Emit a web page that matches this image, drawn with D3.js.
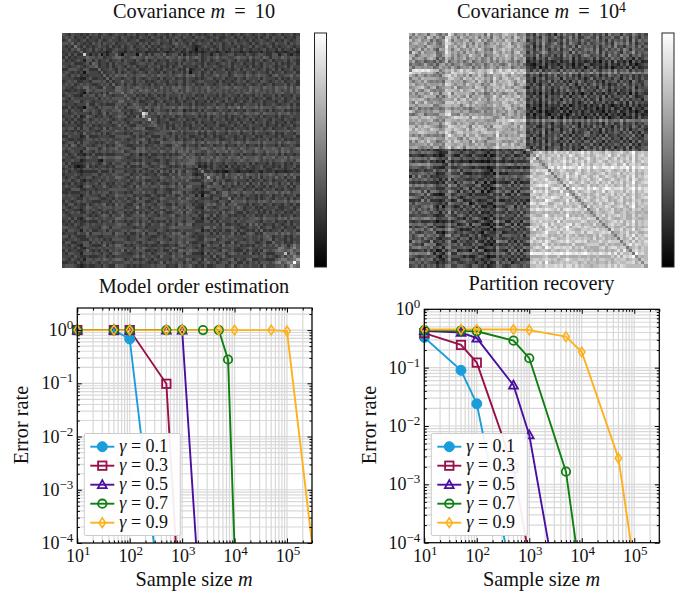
<!DOCTYPE html>
<html>
<head>
<meta charset="utf-8">
<script src="https://cdn.jsdelivr.net/npm/d3@7"></script>
<style>
html, body { margin: 0; padding: 0; background: #fff; }
text { font-family: "Liberation Serif", serif; fill: #111; }
</style>
</head>
<body>
<svg id="fig" width="694" height="595"></svg>
<script>
// Grey level 0-f per cell, read by eye. Upper triangle only, the matrix is symmetric.
// Each row is aligned to the last column, the diagonal comes from its own string.
const covLowDiag = "5566766c6566666656667665667d6a6655555665666665677a6655667666555556666666676b66f6";
const covLow = [
"5435443435 4534543454 4354534435 4354435345 4453543434 5344354345 3454345435 4345344534",
"645344353 4435444543 5443435443 5443534454 3544354543 4453344534 5344435345 3544534435",
"54434534 4354345443 4534453344 3454453535 4344534344 5343454453 4435344543 4534354345",
"5354343 5453544534 4454435453 5453443564 5435345445 3545345354 4543534545 4354453545",
"543534 3454435343 5345344535 3434544354 4544323454 4345344435 3445354434 5343445434",
"64345 3543533454 4345434453 4353443534 4354314343 5435343544 3543443453 4435344353",
"5344 3434323543 3243433423 3334323344 2342323234 3323423433 2342334243 3423323432",
"c42 4351424463 1544416435 3554634553 5243435344 2453445534 4354345543 3552453243",
"645 5455344566 5445655465 5455465546 5464565345 4564554456 5546455465 3554654554",
"54 3534453445 3544354353 4534435445 4354435345 3454345435 4435344534 5344453543",
"5 4534435354 4543345544 5344534435 3544544353 4434545344 5344354354 4535343453",
"6 534435345 4354534435 4453435345 5344435354 4543445354 4435344354 5434453544",
"5 43445435 4534453344 5343544453 4362344534 5344534345 3544543453 4535344534",
"6 5344535 3454345435 4435345344 5351445345 3544453454 4354345443 5344534453",
"6 435465 5645455654 5465545456 5465645354 4564553465 5465456554 3564455645",
"6 43544 3454354345 4435344534 4354434345 5344534435 4354445354 4435343544",
"5 5344 6445354534 3454435445 5354345544 4435344345 4534543554 3454534453",
"5 534 5354345443 5344534435 4354534354 4345443534 4354345434 5344453543",
"6 56 5454565454 5446454656 5465454556 4545565465 5446555465 5465564646",
"5 5456546565 4645454564 5465454546 5455454545 4546465454 5465454645",
"5456454554 5455455455 6454554545 4545454455 4565454554 5455644545",
"6 44534353 4534354445 3544534354 4435345443 5344354534 4535344354",
"6 4354534 3454453435 4534354453 5344453534 4435434453 3544534453",
"5 453344 5345344534 5344534435 3454354434 5345344534 4435434544",
"5 54435 4354534443 5443534344 4534534354 3454453534 4543445353",
"6 5465 4564555646 6554645546 5465546557 4655564655 5456556454",
"d 435 3554435345 5243435354 4345443534 4354344543 5344534343",
"7 a4 5465546556 6455654546 5654645565 4565565465 5546556454",
"a 5 4435344534 5344453435 3454435344 5345443534 4435344544",
"6 4534453345 4534345445 3544534353 4453534454 3544354434",
"6 534435444 5344535344 4354453445 3544354453 4534435345",
"6 44534354 5343544534 4453344534 5345444353 4435344534",
"6 4535345 4453445354 3544534354 4435344534 5344453445",
"6 555654 6455564646 5465546556 4655465545 5645556465",
"5 43544 5344453435 4354435445 3445354443 4534354435",
"5 4535 4453344534 5343454434 5344534354 4435344453",
"5 534 5344534354 4453344534 4354345445 3544534344",
"6 56 6455645646 5564654556 5465556465 5546456554",
"5 5 4354435344 5344534435 4534435354 4435344543",
"6 6465545665 4655646554 6545565465 5654655456",
"6 564655446 5465564655 4655465546 5564656455",
"5 45534345 4435344543 5344345435 4453534434",
"6 5654655 6465546556 4655565465 5645564655",
"5 654556 4565455455 6545565454 5455654546",
"7 43435 3544354435 4453534443 5344534354",
"6 2324 3543425343 4354344534 4343534453",
"4 435 3544354433 4534344543 3454434534",
"9 33 4323213432 3332343243 3423323343",
"8 5 6545364556 5465546455 6545564655",
"4 5465354564 6453546354 5464535463",
"6 354533454 4435344534 5344453443",
"5 53645463 5463546354 6453546354",
"6 5345344 4534354435 3454453535",
"5 443545 5344534354 4534354345",
"6 64565 4655465546 5564656455",
"5 4435 3454435344 5344534453",
"5 354 4534435345 4354453534",
"5 55 5645546565 4655564656",
"5 4 4435344534 5344354353",
"6 5344534354 4453344534",
"6 345443534 4534354435",
"5 34453435 3544534354",
"5 4534354 4435344534",
"6 565465 5546564655",
"5 44354 4534435344",
"5 4534 4354345354",
"5 345 5344534435",
"5 34 3445354453",
"6 5 5564656456",
"5 5344534354",
"4 354435344",
"5 44534354",
"6 4653575",
"6 75468 5",
"7 a5675 6",
"a 5476 4",
"6 586",
"8 7a",
"f 7",
"6"
];

const covHighDiag = "a9a99a9a9898b9aa9a9a9a9a98988c9a9a9a9a9a7878787777877877787778787778777877788899";
const covHigh = [
"a97b89a6ab 8697eb79a8 b89a9a6c7a 98bca9b789 4638575362 7485648365 5746473856 6375486464",
"9b8a97ca7 a86dc9a7b9 8a9b7a8a6b a8b9a7ca8a 5746386457 5365847346 7548365574 4857375365",
"a7b89a69 679eb7a98a b79ac8a78b 9a8ca9b79a 3647586354 6484756475 4657463746 5647384756",
"8a9b78a 769dca8a9b 8a7b9a68a9 b9bac79a98 6537495468 5374865364 7456574638 6758473564",
"a97ba9 878ea9b8ac 7a9b8a89ab 98abca8b97 4726384575 6485473856 5647365748 4536574746",
"9b8a7 5a9da7ab89 a8b9ca786b 9acab8a9a8 5637485364 7365846457 6748357465 7486375564",
"c79a 678eb9a8a7 b9a79a898c a8b9a7bc89 3745697456 5476384756 4658374657 5375694656",
"a9b 769cb8a79a 8ca98b688a b9aca8a9b7 5648375463 6385745368 7456473856 4867365745",
"8a 586b97a89b 79a8a78a7b 8a9ba7b98a 3527463754 4365726354 5637346475 6374526346",
"7 857b689796 8a68978a79 7a8a87968a 2435263423 5243625342 3524153627 3425163523",
"8 57a79688a8 76978968a8 9768b89796 3214362534 2453415236 5234352634 2536241345",
"6 8c97a8689 8a697a78a9 7a89a68978 4325142634 5263524351 4635242513 4352625234",
"b ecbac9bda cb9acbacd9 bdacdbcacb 5364735465 3746574635 6475365748 4657364547",
"b dacbdcbca bdcacb9cea bcdcbeacbd 6879586977 8596978586 7968587969 5878697868",
"a 9ba7c9a8 b7a9ca798b a9ca8ba9a8 3645253647 3564735264 5346253754 6354635354",
"a bc9ba8c ab9cab9a8d a8bca9bc9a 4526473546 6274546352 4735464536 5264735364",
"9 acb9a7 9ab8ca8a7c 9babca8bac 3526354736 4635264753 5463526456 3645275346",
"b a9cb8 ca9ba798bc a9bacb79ba 5364265374 5463752646 3574635243 6475364536",
"a 8bac 9a8cba7a9b bac9a8ba97 2546384635 4756354263 6452746364 5536472545",
"b c9b abc9ac8a8c 9bacbc8aab 4635374526 3647546375 4536475253 6345374654",
"8 78 9a7b8967a8 a978a9b78a 3425163524 3542625314 5263425346 2435162543",
"a b bac9ab889d a8cab9bc9a 5364372645 4736254637 3546372635 5463752346",
"a 9cbac9a7ac 9bacbca8b9 3546274635 5264735463 6347265453 3746354526",
"9 abc8a989a a9cb9aca9b 4635263746 3574635246 4735463537 5362736454",
"a 8ab98a9c a9bcb8a9ba 2534162534 3625135342 5243625313 4252635243",
"8 9768978a 9a8bc9a78a 3415263423 5142635352 4351425362 3524163425",
"8 86978b 89a8ba7a98 4253151324 3625143524 5243315243 6235241352",
"7 8978a 9a79ba8a89 2514362143 5241363524 3526241534 2415362523",
"7 87a 8ac9a89a8b 3425253615 3162534251 4352625134 5243252634",
"c ce dbcbdecbcd 5768596778 6596857675 8576968567 6958776687",
"9 c a9cba8ba9a 3546374526 5374635264 6453527463 4735463546",
"a b8ca9ab8ca 5463264735 4356475263 5374635426 3645375364",
"9 9bca8a9ba 4635473526 6254736445 3645273536 4736254653",
"a bc9ab89a 3546382645 5374625346 7354263546 5364735264",
"a a8ba9cb 5364273546 4735263547 6453627345 3546473526",
"9 9a8b9a 3726453647 5264735362 4536474635 5263745346",
"a b9a8b 4635372645 3546274536 6374526354 4635263745",
"9 8ba 3546364735 5273645364 4735263546 5364735254",
"a a9 5264372546 6354635427 5364735362 4537263456",
"9 9 4537463648 5364735264 6574638546 4736475365",
"9 bcabdb9cad bcbdacbceb daccbadcab cdbacfabcb",
"8 cbdacabcb dacbecabdb cabdcbceab dbacbeacdb",
"8 abeacbdab cbdacbdabc ebacbcdabd acbdaeacbc",
"8 cdbabcac bcebdacbda dbacdbacbc bdacbeabdc",
"7 ebcadbc cbdabcdaeb caccbdbacd abeacdbcab",
"8 dfdeb ecfdedcfdc ebfdceedfd cedfbfcdfd",
"7 9bca bdcabacdab dabcbacdba bcadaeacbc",
"6 cab acbdabecab cbabcdacbb dacbcdabac",
"7 bd bcaebcdacd bacdabdcba cbadbeacbd",
"8 a cabdabcacb dabcebabdb acbdaecabc",
"7 bdcbecabdb acbdacbdac bdacbfabcd",
"7 cadabcbab dabacbdbca bcadbdacbb",
"8 edbfcedb ecfdbdfecd debcdfbecd",
"7 bcadabc dbacbeacdb bcadbeacbd",
"7 acbdba cabdbacbda cbdabdabcb",
"7 bdacb dbacbdcabc bdacbeabcd",
"7 acbd cabdbcdaba cdabadbcab",
"6 bca bcabdabcda bcadbeacbc",
"7 bc dacbcbdcab cdbacfabcb",
"7 a cabdabcbda bacbadbcab",
"6 bdacbabcda abcabcaaba",
"7 acbdacbc dbcaadacbb",
"6 bcabdba abcaacbaab",
"7 cbabcd bdacbeacbc",
"7 acdb cbadbdacbc",
"7 bca abcaacabab",
"6 db bdacbeabcd",
"7 a acbdabcaab",
"7 bcadbeacbd",
"7 cabdadbcb",
"7 bcadacbd",
"7 cebdcbc",
"8 abcacb",
"8 cdbcb",
"9 fcdb",
"8 bab",
"9 cb",
"a c",
"a"
];

// Model order estimation
const orderSamples01 = [10, 50, 100, 500];
const orderError01 = [1, 1, 0.68, 1e-6];
const orderSamples03 = [10, 50, 100, 500, 1000];
const orderError03 = [1, 1, 1, 0.098, 1e-6];
const orderSamples05 = [10, 50, 100, 500, 1000, 2500];
const orderError05 = [1, 1, 1, 1, 1, 1e-6];
const orderSamples07 = [10, 50, 100, 500, 1000, 2500, 5000, 7500, 10000];
const orderError07 = [1, 1, 1, 1, 1, 1, 1, 0.28, 8e-5];
const orderSamples09 = [10, 50, 100, 500, 1000, 5000, 10000, 50000, 100000, 300000];
const orderError09 = [1, 1, 1, 1, 1, 1, 1, 1, 0.96, 1e-4];

// Partition recovery
const partSamples01 = [10, 50, 100, 500];
const partError01 = [0.33, 0.09, 0.024, 2e-5];
const partSamples03 = [10, 50, 100, 500, 1000];
const partError03 = [0.39, 0.245, 0.122, 0.0019, 5.5e-5];
const partSamples05 = [10, 50, 100, 500, 1000, 5000];
const partError05 = [0.43, 0.40, 0.32, 0.05, 0.007, 2e-6];
const partSamples07 = [10, 50, 100, 500, 1000, 5000, 10000];
const partError07 = [0.44, 0.43, 0.42, 0.29, 0.145, 0.00165, 1.8e-5];
const partSamples09 = [10, 50, 100, 500, 1000, 5000, 10000, 50000, 100000];
const partError09 = [0.45, 0.45, 0.45, 0.45, 0.44, 0.34, 0.185, 0.0028, 4e-5];

const gammas = ["0.1", "0.3", "0.5", "0.7", "0.9"];
const colors = ["#1a9ddb", "#990f47", "#4a0f9f", "#0f7f12", "#fdb11c"];
const markers = ["circle", "square", "triangle", "ring", "diamond"];

const svg = d3.select("#fig");
const grey = d3.scaleLinear().domain([0, 15]).range(["#000", "#fff"]);

// rows -> full symmetric matrix
function unpack(rows, diag, fallback) {
    const n = rows.length;
    const m = d3.range(n).map(() => new Array(n).fill(fallback));
    rows.forEach(function(r, i) {
        const s = r.replace(/\s/g, "");
        for (let k = 0; k < s.length; k++) {
            const j = n - 1 - k;
            if (j < i) break;
            const v = parseInt(s[s.length - 1 - k], 16);
            m[i][j] = v;
            m[j][i] = v;
        }
        m[i][i] = parseInt(diag[i], 16);
    });
    return m;
}

function heatmap(rows, diag, fallback, left, top, width, height, barX) {
    const m = unpack(rows, diag, fallback);
    const idx = d3.range(m.length);
    const x = d3.scaleBand().domain(idx).range([left, left + width]);
    const y = d3.scaleBand().domain(idx).range([top, top + height]);
    const g = svg.append("g").attr("shape-rendering", "crispEdges");
    idx.forEach(function(i) {
        g.selectAll(null)
            .data(m[i])
            .join("rect")
            .attr("x", (d, j) => x(j))
            .attr("y", y(i))
            .attr("width", x.bandwidth() + 0.5)
            .attr("height", y.bandwidth() + 0.5)
            .attr("fill", d => grey(d));
    });
    // colorbar
    const gradId = "bar" + Math.round(barX);
    const grad = svg.append("defs").append("linearGradient")
        .attr("id", gradId)
        .attr("x1", 0).attr("x2", 0).attr("y1", 0).attr("y2", 1);
    grad.append("stop").attr("offset", "0%").attr("stop-color", grey(15));
    grad.append("stop").attr("offset", "100%").attr("stop-color", grey(0));
    svg.append("rect")
        .attr("x", barX).attr("y", top)
        .attr("width", 12).attr("height", height)
        .attr("fill", `url(#${gradId})`)
        .attr("stroke", "#222").attr("stroke-width", 1);
}

function mathTitle(cx, y, size, exp, rest) {
    const t = svg.append("text").attr("x", cx).attr("y", y)
        .attr("text-anchor", "middle").attr("font-size", size);
    t.append("tspan").text("Covariance ");
    t.append("tspan").attr("font-style", "italic").text("m");
    t.append("tspan").text(" \u2009=\u2009 " + rest);
    if (exp) t.append("tspan").attr("font-size", size * 0.68).attr("dy", -6).text(exp);
}

function powerLabel(sel, exp) {
    sel.append("tspan").text("10");
    sel.append("tspan").attr("font-size", 13).attr("dy", -7).text(String(exp).replace("-", "\u2212"));
}

function decades(lo, hi) {
    return d3.range(lo, hi + 1).map(e => Math.pow(10, e));
}

function minorTicks(lo, hi, max) {
    const out = [];
    d3.range(lo, hi + 1).forEach(function(e) {
        d3.range(2, 10).forEach(function(k) {
            const v = k * Math.pow(10, e);
            if (v <= max) out.push(v);
        });
    });
    return out;
}

function drawMarker(sel, kind, color, px, py) {
    if (kind == "circle") {
        sel.append("circle").attr("cx", px).attr("cy", py).attr("r", 5)
            .attr("fill", color).attr("stroke", color);
    } else if (kind == "ring") {
        sel.append("circle").attr("cx", px).attr("cy", py).attr("r", 4.2)
            .attr("fill", "none").attr("stroke", color).attr("stroke-width", 1.8);
    } else if (kind == "square") {
        sel.append("rect").attr("x", px - 4.2).attr("y", py - 4.2).attr("width", 8.4).attr("height", 8.4)
            .attr("fill", "none").attr("stroke", color).attr("stroke-width", 1.8);
    } else if (kind == "triangle") {
        sel.append("path").attr("d", `M${px},${py - 4.6}L${px + 4.4},${py + 3.4}L${px - 4.4},${py + 3.4}Z`)
            .attr("fill", "none").attr("stroke", color).attr("stroke-width", 1.8);
    } else {
        sel.append("path").attr("d", `M${px},${py - 4.8}L${px + 3.2},${py}L${px},${py + 4.8}L${px - 3.2},${py}Z`)
            .attr("fill", "none").attr("stroke", color).attr("stroke-width", 1.6);
    }
}

function errorPlot(opts) {
    const x = d3.scaleLog().domain([10, opts.xMax]).range([opts.left, opts.right]);
    const y = d3.scaleLog().domain([1e-4, opts.yMax]).range([opts.bottom, opts.top]);
    const g = svg.append("g");
    const width = opts.right - opts.left;
    const height = opts.bottom - opts.top;
    const clipId = "clip" + Math.round(opts.left);

    svg.append("defs").append("clipPath").attr("id", clipId)
        .append("rect").attr("x", opts.left).attr("y", opts.top)
        .attr("width", width).attr("height", height);

    const xMajor = decades(1, 5);
    const yMajor = decades(-4, 0);
    const xMinor = minorTicks(1, 5, opts.xMax);
    const yMinor = minorTicks(-4, 0, opts.yMax);

    // grid
    g.append("g").selectAll("line").data(xMinor.concat(xMajor)).join("line")
        .attr("x1", d => x(d)).attr("x2", d => x(d))
        .attr("y1", opts.top).attr("y2", opts.bottom)
        .attr("stroke", "#d8d8d8").attr("stroke-width", 1.2);
    g.append("g").selectAll("line").data(yMinor.concat(yMajor)).join("line")
        .attr("y1", d => y(d)).attr("y2", d => y(d))
        .attr("x1", opts.left).attr("x2", opts.right)
        .attr("stroke", "#d8d8d8").attr("stroke-width", 1.2);

    // series
    const line = d3.line().x(d => x(d[0])).y(d => y(d[1]));
    opts.series.forEach(function(s, i) {
        const pts = s[0].map((v, k) => [v, s[1][k]]);
        g.append("path").datum(pts)
            .attr("d", line)
            .attr("fill", "none")
            .attr("stroke", colors[i])
            .attr("stroke-width", 1.9)
            .attr("clip-path", `url(#${clipId})`);
    });
    opts.series.forEach(function(s, i) {
        s[0].forEach(function(v, k) {
            if (s[1][k] >= 1e-4 && v <= opts.xMax && (i < 4 || s[1][k] > 1e-4)) {
                drawMarker(g, markers[i], colors[i], x(v), y(s[1][k]));
            }
        });
    });

    // ticks, all pointing inward on the four sides
    const axes = svg.append("g").attr("color", "#000");
    const addAxis = function(axis, major, minor, tx, ty) {
        axes.append("g").attr("transform", `translate(${tx},${ty})`)
            .call(axis.tickValues(major).tickSize(-4.5).tickSizeOuter(0).tickFormat(""))
            .call(a => a.select(".domain").remove());
        axes.append("g").attr("transform", `translate(${tx},${ty})`)
            .call(axis.tickValues(minor).tickSize(-2.5).tickSizeOuter(0).tickFormat(""))
            .call(a => a.select(".domain").remove());
    };
    addAxis(d3.axisBottom(x), xMajor, xMinor, 0, opts.bottom);
    addAxis(d3.axisTop(x).tickPadding(0), xMajor, xMinor, 0, opts.top);
    addAxis(d3.axisLeft(y), yMajor, yMinor, opts.left, 0);
    addAxis(d3.axisRight(y), yMajor, yMinor, opts.right, 0);
    axes.append("rect").attr("x", opts.left).attr("y", opts.top)
        .attr("width", width).attr("height", height)
        .attr("fill", "none").attr("stroke", "#000").attr("stroke-width", 1.2);

    // tick labels
    d3.range(1, 6).forEach(function(e) {
        svg.append("text").attr("x", x(Math.pow(10, e)) + 1).attr("y", opts.bottom + 19)
            .attr("text-anchor", "middle").attr("font-size", 18)
            .call(powerLabel, e);
    });
    d3.range(-4, 1).forEach(function(e) {
        svg.append("text").attr("x", opts.left - 4).attr("y", y(Math.pow(10, e)) + 6)
            .attr("text-anchor", "end").attr("font-size", 18)
            .call(powerLabel, e);
    });

    // titles
    svg.append("text").attr("x", opts.cx).attr("y", opts.titleY)
        .attr("text-anchor", "middle").attr("font-size", 20.3).text(opts.title);
    const xl = svg.append("text").attr("x", opts.cx).attr("y", 586)
        .attr("text-anchor", "middle").attr("font-size", 20.3);
    xl.append("tspan").text("Sample size ");
    xl.append("tspan").attr("font-style", "italic").text("m");
    svg.append("text")
        .attr("transform", `translate(${opts.yLabelX},425) rotate(-90)`)
        .attr("text-anchor", "middle").attr("font-size", 20.3).text("Error rate");

    // legend
    const lx = opts.left + 7;
    svg.append("rect").attr("x", lx).attr("y", 433.5).attr("width", 96).attr("height", 102)
        .attr("rx", 1.5).attr("fill", "#fff").attr("fill-opacity", 0.92)
        .attr("stroke", "#ccc").attr("stroke-width", 1);
    gammas.forEach(function(gam, i) {
        const ly = 446.7 + i * 19;
        svg.append("line").attr("x1", lx + 6).attr("x2", lx + 30)
            .attr("y1", ly).attr("y2", ly)
            .attr("stroke", colors[i]).attr("stroke-width", 1.9);
        drawMarker(svg, markers[i], colors[i], lx + 18, ly);
        const t = svg.append("text").attr("x", lx + 35).attr("y", ly + 5.5).attr("font-size", 18);
        t.append("tspan").attr("font-style", "italic").text("\u03b3");
        t.append("tspan").text(" = " + gam);
    });
}

mathTitle(194, 18, 20.3, "", "10");
mathTitle(541.5, 18, 20.3, "4", "10");
heatmap(covLow, covLowDiag, 4, 62, 33, 237, 234, 314.5);
heatmap(covHigh, covHighDiag, 8, 409, 33, 238, 234, 662);

errorPlot({
    left: 77.3, right: 312, top: 308, bottom: 543, cx: 194, titleY: 293, yLabelX: 28,
    xMax: 3e5, yMax: 2.6, title: "Model order estimation",
    series: [[orderSamples01, orderError01], [orderSamples03, orderError03], [orderSamples05, orderError05],
             [orderSamples07, orderError07], [orderSamples09, orderError09]]
});
errorPlot({
    left: 424.3, right: 659.3, top: 309.3, bottom: 542.7, cx: 541.5, titleY: 290, yLabelX: 376,
    xMax: 3e5, yMax: 1, title: "Partition recovery",
    series: [[partSamples01, partError01], [partSamples03, partError03], [partSamples05, partError05],
             [partSamples07, partError07], [partSamples09, partError09]]
});
</script>
</body>
</html>
